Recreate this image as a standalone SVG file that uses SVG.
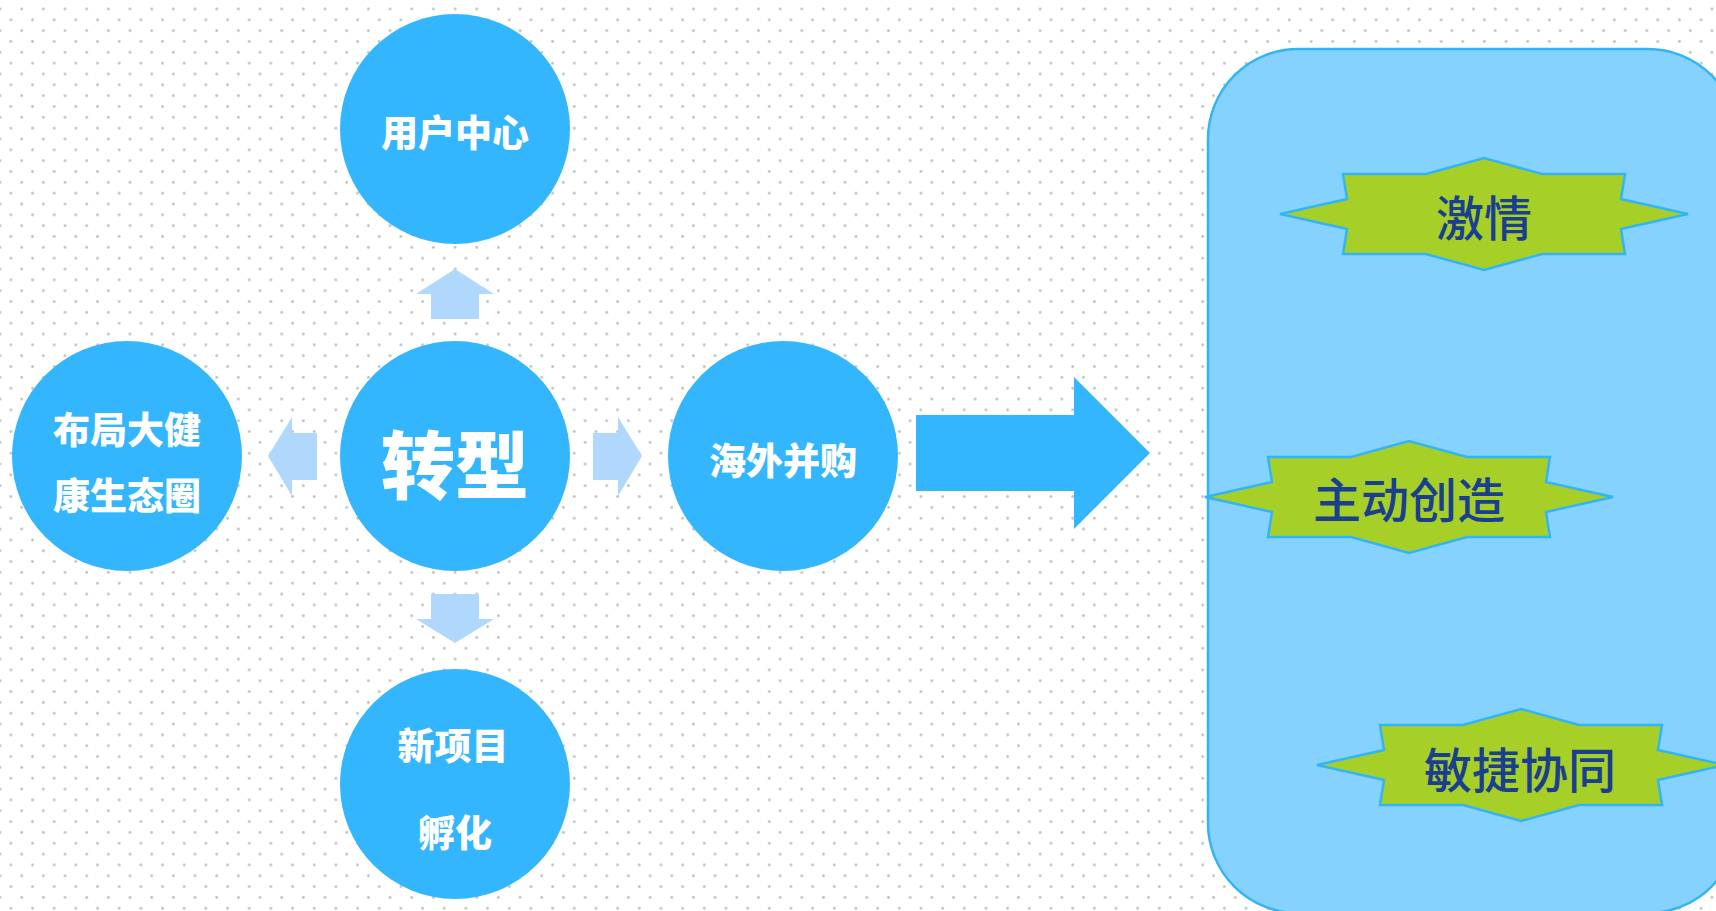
<svg xmlns="http://www.w3.org/2000/svg" xmlns:xlink="http://www.w3.org/1999/xlink" width="1716" height="911" viewBox="0 0 1716 911">
<style>
.circ{fill:#33b6fd}
.ctext{fill:#ffffff;font-family:"Noto Sans CJK SC","Noto Sans",sans-serif;font-weight:900;text-anchor:middle;dominant-baseline:central}
.light{fill:#b0d8fc}
.big{fill:#33b6fd}
.star{fill:#a6cf28;stroke:#33b5f5;stroke-width:2.5}
.stext{fill:#1a3f8f;font-family:"Noto Sans CJK SC","Noto Sans",sans-serif;font-weight:500;font-size:48px;text-anchor:middle;dominant-baseline:central}
</style>
<defs>
<pattern id="dots" patternUnits="userSpaceOnUse" x="-5.4" y="3.6" width="21.67" height="21.67">
<circle cx="5.4" cy="5.4" r="1.4" fill="#c0c0c0"/>
<circle cx="16.25" cy="16.25" r="1.4" fill="#c0c0c0"/>
</pattern>
<polygon id="starShape" points="-204,0 -137,-15 -141,-40 -58,-40 0,-56 58,-40 141,-40 137,-15 204,0 137,15 141,40 58,40 0,56 -58,40 -141,40 -137,15"/>
</defs>
<rect x="0" y="0" width="1716" height="911" fill="#ffffff"/>
<rect x="0" y="0" width="1716" height="911" fill="url(#dots)"/>

<g id="panel">
<rect x="1208" y="49" width="530" height="864" rx="90" ry="90" fill="#84d2fd" stroke="#33b5f5" stroke-width="2.5"/>
</g>

<g id="connectors">
<polygon class="light" points="455,269 494,294 479,294 479,319 431,319 431,294 416,294"/>
<polygon class="light" points="431,594 479,594 479,619 494,619 455,643 416,619 431,619"/>
<polygon class="light" points="268,456 292,417 292,433 317,433 317,480 292,480 292,496"/>
<polygon class="light" points="642,456 618,417 618,433 593,433 593,480 618,480 618,496"/>
<polygon class="big" points="916,415 1074,415 1074,377 1150,453 1074,529 1074,491 916,491"/>
</g>

<g id="node-yonghu">
<circle class="circ" cx="455" cy="129" r="115"/>
<text class="ctext" x="455" y="131" font-size="37">用户中心</text>
</g>
<g id="node-zhuanxing">
<circle class="circ" cx="455" cy="456" r="115"/>
<text class="ctext" x="455" y="460" font-size="74">转型</text>
</g>
<g id="node-bujv">
<circle class="circ" cx="127" cy="456" r="115"/>
<text class="ctext" x="127" y="428" font-size="37">布局大健</text>
<text class="ctext" x="127" y="494" font-size="37">康生态圈</text>
</g>
<g id="node-haiwai">
<circle class="circ" cx="783" cy="456" r="115"/>
<text class="ctext" x="783" y="459" font-size="37">海外并购</text>
</g>
<g id="node-xinxiangmu">
<circle class="circ" cx="455" cy="784" r="115"/>
<text class="ctext" x="453" y="744" font-size="37">新项目</text>
<text class="ctext" x="455" y="831" font-size="37">孵化</text>
</g>

<g id="star-jiqing">
<use xlink:href="#starShape" href="#starShape" class="star" transform="translate(1484,214)"/>
<text class="stext" x="1484" y="215">激情</text>
</g>
<g id="star-zhudong">
<use xlink:href="#starShape" href="#starShape" class="star" transform="translate(1409,497)"/>
<text class="stext" x="1409" y="497">主动创造</text>
</g>
<g id="star-minjie">
<use xlink:href="#starShape" href="#starShape" class="star" transform="translate(1521,765)"/>
<text class="stext" x="1520" y="767">敏捷协同</text>
</g>
</svg>
